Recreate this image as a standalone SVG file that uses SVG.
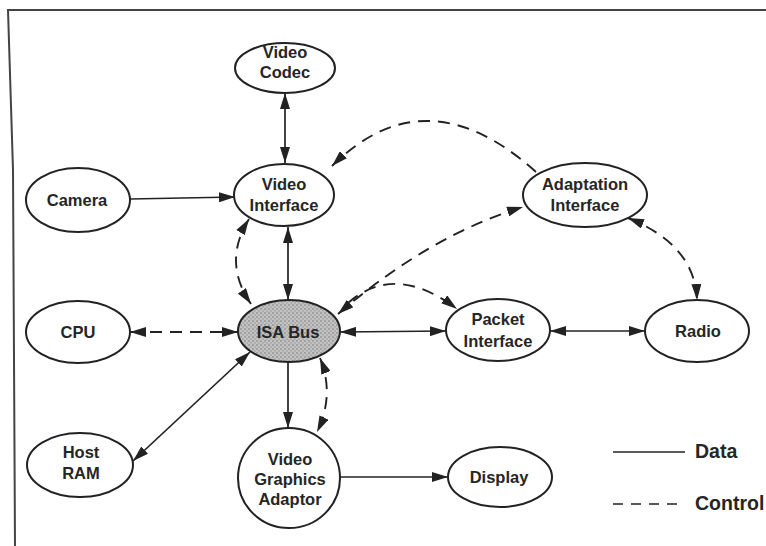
<svg xmlns="http://www.w3.org/2000/svg" width="766" height="546" viewBox="0 0 766 546">
  <style>
    .node { fill: #ffffff; stroke: #222; stroke-width: 2; }
    .bus { fill: url(#stipple); stroke: #222; stroke-width: 2; }
    .lbl { font-family: "Liberation Sans", Arial, sans-serif; font-weight: bold; font-size: 16.5px; fill: #262626; text-anchor: middle; }
    .leg { font-family: "Liberation Sans", Arial, sans-serif; font-weight: bold; font-size: 19.5px; fill: #262626; }
    .data { fill: none; stroke: #222; stroke-width: 1.7; }
    .ctrl { fill: none; stroke: #222; stroke-width: 1.9; stroke-dasharray: 12 8; }
    .frame { fill: none; stroke: #444; stroke-width: 2; }
  </style>
  <defs>
    <marker id="arrow" viewBox="0 0 16 10" refX="16" refY="5" markerWidth="16" markerHeight="10" markerUnits="userSpaceOnUse" orient="auto-start-reverse">
      <path d="M0,0 L16,5 L0,10 z" fill="#222"/>
    </marker>
    <pattern id="stipple" width="4" height="4" patternUnits="userSpaceOnUse">
      <rect width="4" height="4" fill="#c2c2c2"/>
      <circle cx="1" cy="1" r="0.8" fill="#7a7a7a"/>
      <circle cx="3" cy="3" r="0.7" fill="#8e8e8e"/>
    </pattern>
  </defs>

  <rect width="766" height="546" fill="#ffffff"/>
  <!-- frame: top and left edges only -->
  <polyline class="frame" points="766,10 8,10 13,170 15,546"/>

  <!-- connectors -->
  <g id="connectors">
    <!-- data -->
    <path class="data" d="M285,93 L285,163" marker-start="url(#arrow)" marker-end="url(#arrow)"/>
    <path class="data" d="M130,199 L235,197" marker-end="url(#arrow)"/>
    <path class="data" d="M288,227 L288,300" marker-start="url(#arrow)" marker-end="url(#arrow)"/>
    <path class="data" d="M133,461 L250,352" marker-start="url(#arrow)" marker-end="url(#arrow)"/>
    <path class="data" d="M340,332 L446,331" marker-start="url(#arrow)" marker-end="url(#arrow)"/>
    <path class="data" d="M550,331 L645,331" marker-start="url(#arrow)" marker-end="url(#arrow)"/>
    <path class="data" d="M288,362 L288,428" marker-end="url(#arrow)"/>
    <path class="data" d="M334,477 L448,477" marker-end="url(#arrow)"/>
    <!-- control -->
    <path class="ctrl" d="M249,219 Q222,262 251,304" marker-start="url(#arrow)" marker-end="url(#arrow)"/>
    <path class="ctrl" d="M130,332 L238,332" marker-start="url(#arrow)" marker-end="url(#arrow)"/>
    <path class="ctrl" d="M320,358 Q335,395 317,432" marker-start="url(#arrow)" marker-end="url(#arrow)"/>
    <path class="ctrl" d="M536,172 Q426,73 332,166" marker-end="url(#arrow)"/>
    <path class="ctrl" d="M338,314 Q430,235 523,207" marker-start="url(#arrow)" marker-end="url(#arrow)"/>
    <path class="ctrl" d="M348,303 Q395,262 457,309" marker-end="url(#arrow)"/>
    <path class="ctrl" d="M628,218 Q695,245 697,300" marker-start="url(#arrow)" marker-end="url(#arrow)"/>
  </g>

  <!-- nodes -->
  <g id="video-codec">
    <ellipse class="node" cx="285" cy="68" rx="50" ry="25"/>
    <text class="lbl" x="285" y="58">Video</text>
    <text class="lbl" x="285" y="78">Codec</text>
  </g>
  <g id="video-interface">
    <ellipse class="node" cx="284" cy="195" rx="50" ry="31"/>
    <text class="lbl" x="284" y="190">Video</text>
    <text class="lbl" x="284" y="211">Interface</text>
  </g>
  <g id="camera">
    <ellipse class="node" cx="78" cy="200" rx="52" ry="32"/>
    <text class="lbl" x="77" y="206">Camera</text>
  </g>
  <g id="adaptation-interface">
    <ellipse class="node" cx="585" cy="195" rx="62" ry="32"/>
    <text class="lbl" x="585" y="190">Adaptation</text>
    <text class="lbl" x="585" y="211">Interface</text>
  </g>
  <g id="cpu">
    <ellipse class="node" cx="78" cy="332" rx="52" ry="31"/>
    <text class="lbl" x="78" y="338">CPU</text>
  </g>
  <g id="isa-bus">
    <ellipse class="bus" cx="289" cy="331" rx="51" ry="31"/>
    <text class="lbl" x="288" y="338">ISA Bus</text>
  </g>
  <g id="packet-interface">
    <ellipse class="node" cx="498" cy="330" rx="52" ry="31"/>
    <text class="lbl" x="498" y="325">Packet</text>
    <text class="lbl" x="498" y="347">Interface</text>
  </g>
  <g id="radio">
    <ellipse class="node" cx="697" cy="331" rx="52" ry="31"/>
    <text class="lbl" x="698" y="337">Radio</text>
  </g>
  <g id="host-ram">
    <ellipse class="node" cx="80" cy="465" rx="53" ry="32"/>
    <text class="lbl" x="81" y="458">Host</text>
    <text class="lbl" x="81" y="479">RAM</text>
  </g>
  <g id="video-graphics-adaptor">
    <ellipse class="node" cx="289" cy="478" rx="51" ry="50"/>
    <text class="lbl" x="290" y="465">Video</text>
    <text class="lbl" x="290" y="485">Graphics</text>
    <text class="lbl" x="290" y="505">Adaptor</text>
  </g>
  <g id="display">
    <ellipse class="node" cx="500" cy="477" rx="52" ry="30"/>
    <text class="lbl" x="499" y="483">Display</text>
  </g>

  <!-- legend -->
  <g id="legend">
    <line class="data" x1="613" y1="452" x2="685" y2="452"/>
    <text class="leg" x="695" y="458">Data</text>
    <line class="data" x1="613" y1="504" x2="685" y2="504" stroke-dasharray="10 8"/>
    <text class="leg" x="695" y="510">Control</text>
  </g>
</svg>
